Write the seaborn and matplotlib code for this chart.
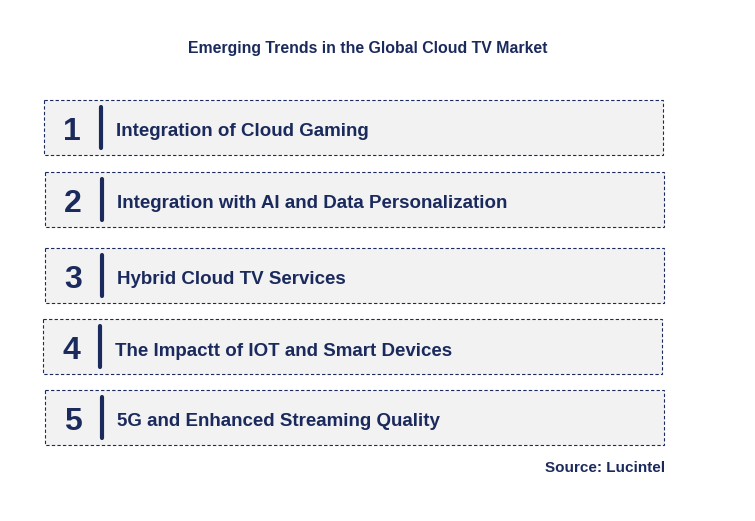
import matplotlib
matplotlib.use("Agg")
import matplotlib.pyplot as plt
import seaborn as sns
from matplotlib.patches import Rectangle

title = "Emerging Trends in the Global Cloud TV Market"
numbers = ["1", "2", "3", "4", "5"]
trends = [
    "Integration of Cloud Gaming",
    "Integration with AI and Data Personalization",
    "Hybrid Cloud TV Services",
    "The Impactt of IOT and Smart Devices",
    "5G and Enhanced Streaming Quality",
]
source = "Source: Lucintel"

sns.set_theme(style="white", font="Liberation Sans")
navy = "#1b2a5c"

fig = plt.figure(figsize=(7.55, 5.21), dpi=100)
ax = fig.add_axes([0, 0, 1, 1])
ax.set_xlim(0, 755)
ax.set_ylim(521, 0)
ax.axis("off")

tops = [100, 172, 248, 319, 390]
lefts = [44, 45, 45, 43, 45]
for num, txt, top, left in zip(numbers, trends, tops, lefts):
    ax.add_patch(Rectangle((left, top), 619, 55, facecolor="#f2f2f2",
                           edgecolor=navy, linestyle=(0, (3, 2)), linewidth=0.8))
    ax.text(left + 28, top + 32, num, fontsize=23, fontweight="bold",
            color=navy, ha="center", va="center")
    ax.plot([left + 57, left + 57], [top + 7, top + 48], color=navy, linewidth=3)
    ax.text(left + 72, top + 32, txt, fontsize=13.5, fontweight="bold",
            color=navy, ha="left", va="center")

ax.text(368, 49, title, fontsize=11.4, fontweight="bold", color=navy,
        ha="center", va="center")
ax.text(665, 468, source, fontsize=11, fontweight="bold", color=navy,
        ha="right", va="center")

fig.savefig("out.png", dpi=100, facecolor="white")
